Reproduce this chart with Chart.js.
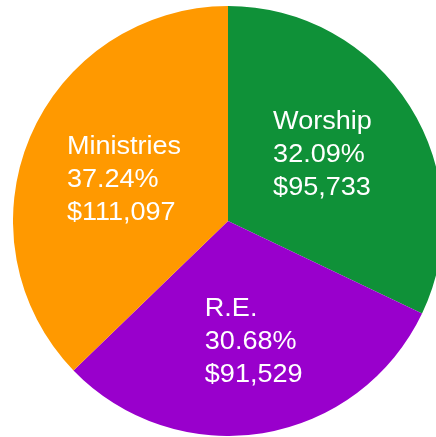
<!DOCTYPE html>
<html>
<head>
<meta charset="utf-8">
<script src="https://cdn.jsdelivr.net/npm/chart.js@4.4.0/dist/chart.umd.min.js"></script>
<style>
    html, body { margin: 0; padding: 0; background: #fff; overflow: hidden; width: 436px; height: 437px; }
    #wrap { position: absolute; left: 13px; top: 6px; width: 430px; height: 430px; }
</style>
</head>
<body>
<div id="wrap"><canvas id="chartBudget" width="430" height="430"></canvas></div>
<script>
let categories = ["Worship", "R.E.", "Ministries"];
let amounts = [95733, 91529, 111097];
let percents = ["32.09%", "30.68%", "37.24%"];
let sliceColors = ["#0f9138", "#9900cc", "#ff9900"];

function money(v) {
    return "$" + v.toLocaleString("en-US");
}

// draw the three-line label inside each slice
const sliceLabels = {
    id: "sliceLabels",
    afterDatasetsDraw(chart, args, opts) {
        let ctx = chart.ctx;
        let meta = chart.getDatasetMeta(0);
        let sx = 1.04;
        ctx.save();
        ctx.font = "26px 'Liberation Sans', Arial, sans-serif";
        ctx.fillStyle = "#ffffff";
        ctx.textAlign = "left";
        ctx.textBaseline = "alphabetic";
        meta.data.forEach(function (arc, i) {
            let mid = (arc.startAngle + arc.endAngle) / 2 + opts.shift[i] * Math.PI / 180;
            let r = arc.outerRadius * opts.radius[i];
            let cx = arc.x + Math.cos(mid) * r;
            let cy = arc.y + Math.sin(mid) * r;
            let lines = [categories[i], percents[i], money(amounts[i])];
            let w = sx * Math.max.apply(null, lines.map(function (t) { return ctx.measureText(t).width; }));
            let lh = 33;
            let y0 = cy - 23.8;
            lines.forEach(function (t, j) {
                ctx.save();
                ctx.translate(cx - w / 2, y0 + j * lh);
                ctx.scale(sx, 1);
                ctx.fillText(t, 0, 0);
                ctx.restore();
            });
        });
        ctx.restore();
    },
};

let ctx = document.getElementById("chartBudget").getContext("2d");
let myChart = new Chart(ctx, {
    type: "pie",
    data: {
        labels: categories,
        datasets: [
            {
                data: amounts,
                backgroundColor: sliceColors,
                borderWidth: 0,
            },
        ],
    },
    options: {
        responsive: false,
        animation: false,
        layout: { padding: 0 },
        plugins: {
            legend: { display: false },
            tooltip: { enabled: false },
            sliceLabels: {
                radius: [0.542, 0.567, 0.524],
                shift: [-3.6, -2.9, -0.4],
            },
        },
    },
    plugins: [sliceLabels],
});
</script>
</body>
</html>
